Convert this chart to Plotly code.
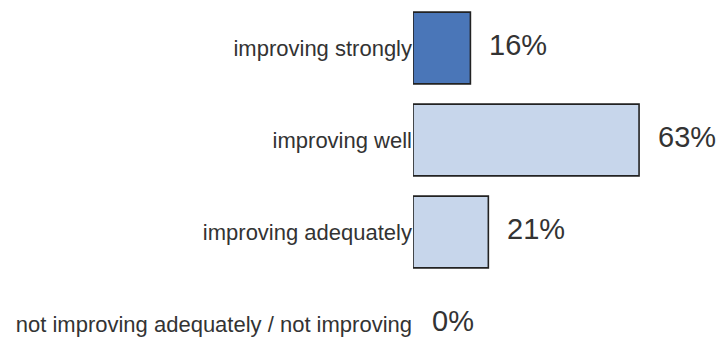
import plotly.graph_objects as go

categories = ["improving strongly", "improving well", "improving adequately",
              "not improving adequately / not improving"]
values = [16, 63, 21, 0]
value_labels = ["16%", "63%", "21%", "0%"]
bar_colors = ["#4A76B8", "#C7D6EB", "#C7D6EB", "#C7D6EB"]

positions = list(range(len(categories)))
outline_widths = [1.6 if v > 0 else 0 for v in values]

fig = go.Figure()
fig.add_trace(go.Bar(
    x=values,
    y=positions,
    orientation="h",
    width=0.78,
    marker=dict(color=bar_colors, line=dict(color="#222222", width=outline_widths)),
    hoverinfo="skip",
))

for v, p, t in zip(values, positions, value_labels):
    fig.add_annotation(
        x=v, y=p, text=t, showarrow=False,
        xanchor="left", yanchor="middle", xshift=17, yshift=3,
        font=dict(family="Liberation Sans, Arial, sans-serif", size=29, color="#333333"),
    )

step = 92.0
top_val = -48 / step
bot_val = top_val + 338 / step

fig.update_layout(
    width=722, height=338,
    margin=dict(l=413, r=4, t=0, b=0),
    paper_bgcolor="white", plot_bgcolor="white",
    showlegend=False,
    xaxis=dict(range=[0, 85], visible=False, fixedrange=True, automargin=False),
    yaxis=dict(
        range=[bot_val, top_val],
        tickmode="array", tickvals=positions, ticktext=categories,
        showgrid=False, zeroline=False, showline=False, ticks="",
        ticklabelstandoff=0, automargin=False,
        tickfont=dict(family="Liberation Sans, Arial, sans-serif", size=22, color="#333333"),
        fixedrange=True,
    ),
)

fig.write_html(
    "out.html",
    config={"displayModeBar": False},
    post_script="document.body.style.margin='0';document.body.style.overflow='hidden';",
)
